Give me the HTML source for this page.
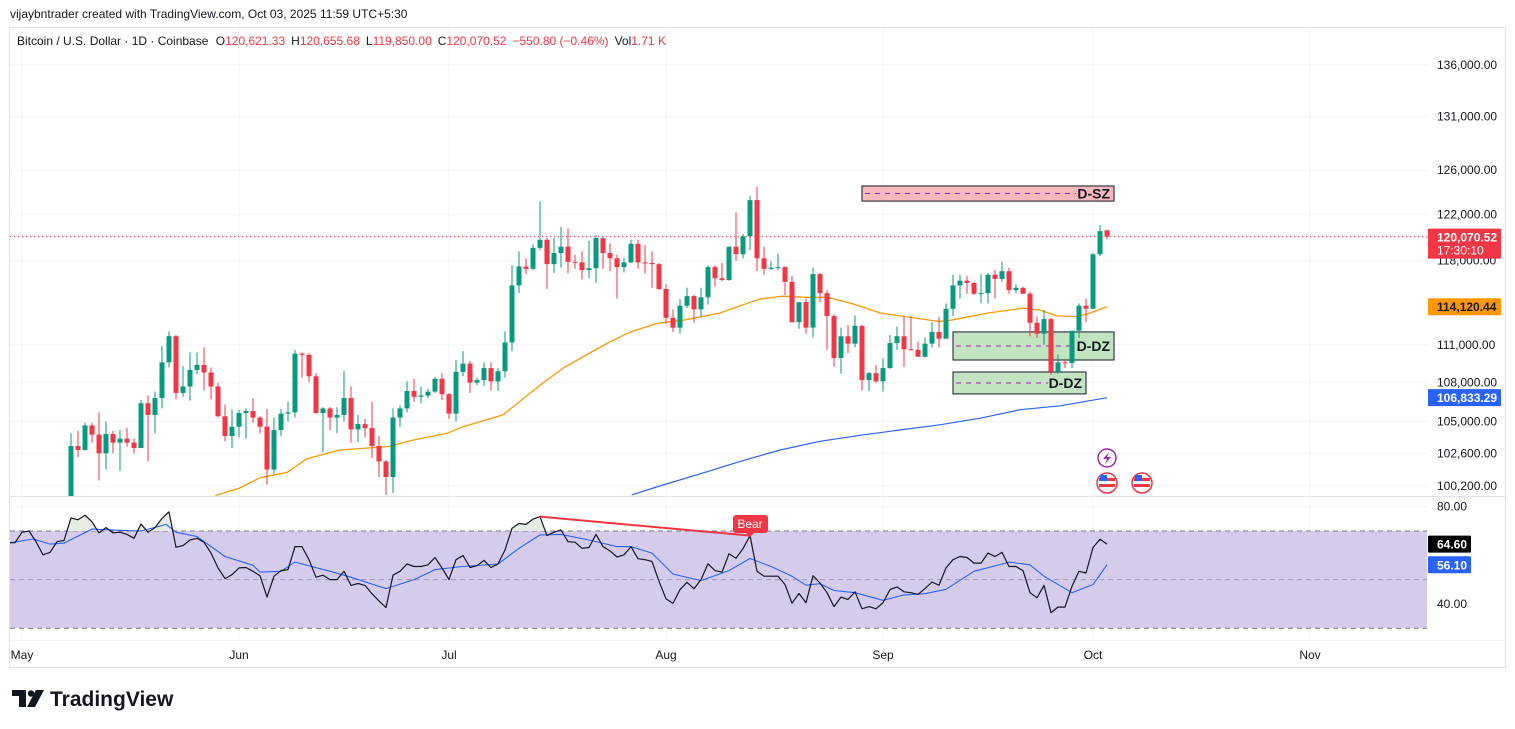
<!DOCTYPE html>
<html><head><meta charset="utf-8"><style>
html,body{margin:0;padding:0;background:#fff;}
svg{display:block;font-family:"Liberation Sans",sans-serif;}
</style></head><body>
<svg id="chart" width="1515" height="729" viewBox="0 0 1515 729" xmlns="http://www.w3.org/2000/svg">
<text x="10" y="18" font-size="12" fill="#131722">vijaybntrader created with TradingView.com, Oct 03, 2025 11:59 UTC+5:30</text>
<rect x="9.5" y="27.5" width="1496" height="640" fill="none" stroke="#e0e3eb"/>
<g id="grid"></g>
<g id="pricePane" clip-path="url(#pclip)"></g>
<g id="rsiPane"></g>
<g id="axes"></g>
<defs>
<clipPath id="pclip"><rect x="10" y="28" width="1417" height="468"/></clipPath>
<clipPath id="rclip"><rect x="10" y="498" width="1417" height="142"/></clipPath>
<clipPath id="above70"><rect x="10" y="498" width="1417" height="33"/></clipPath>
</defs>
<text x="17" y="45" font-size="12" fill="#131722">Bitcoin / U.S. Dollar · 1D · Coinbase <tspan dx="4">O</tspan><tspan fill="#f23645">120,621.33</tspan><tspan dx="6">H</tspan><tspan fill="#f23645">120,655.68</tspan><tspan dx="6">L</tspan><tspan fill="#f23645">119,850.00</tspan><tspan dx="6">C</tspan><tspan fill="#f23645">120,070.52</tspan><tspan dx="6" fill="#f23645">−550.80 (−0.46%)</tspan><tspan dx="6">Vol</tspan><tspan fill="#f23645">1.71 K</tspan></text>
<g>
<rect x="12" y="690" width="14" height="6" fill="#131722"/><rect x="19" y="690" width="7" height="17" fill="#131722"/>
<circle cx="31" cy="693.5" r="3.2" fill="#131722"/><polygon points="36,690 44,690 35,707 27,707" fill="#131722"/>
<text x="50" y="706" font-size="21" font-weight="bold" fill="#131722">TradingView</text>
</g>
</svg>
<script>
// ---- price data (thousands USD), one candle per day starting May 8 2025 (day index 7 from May 1) ----
const startDay = 7;
const opens  = [97.0,103.15,102.85,104.7,104.0,102.6,104.05,103.4,103.7,103.4,103.0,106.4,105.5,106.8,109.6,111.7,107.2,107.7,109.0,109.4,108.8,107.7,105.4,103.9,104.6,105.65,105.8,105.3,104.6,101.4,104.35,105.6,105.7,110.3,110.2,108.5,105.65,106.0,105.3,105.5,106.8,104.4,104.8,104.5,103.15,102.0,100.85,105.3,106.0,107.35,106.9,107.0,107.3,108.3,107.1,105.6,108.85,109.5,108.0,108.2,109.15,108.1,108.9,111.2,115.9,117.5,117.3,119.1,119.8,117.7,118.65,119.2,117.9,117.85,117.2,117.35,119.95,118.65,118.2,117.45,117.85,119.45,117.85,117.8,117.7,115.6,113.2,112.4,114.2,115.0,113.9,114.9,117.45,116.5,116.35,119.2,118.55,120.1,123.3,118.2,117.3,117.4,117.45,116.2,112.85,114.5,112.4,116.85,115.25,113.35,109.95,111.7,111.1,112.55,108.2,108.75,108.1,109.15,111.15,111.7,110.65,110.6,110.05,111.1,112.05,111.5,113.95,115.9,116.3,116.1,115.2,115.25,116.8,116.45,117.1,115.5,115.7,115.2,112.8,111.9,113.1,108.85,109.6,109.55,112.15,114.2,113.95,118.55,120.62];
const highs  = [104.1,104.3,104.9,104.9,105.7,105.0,104.3,104.35,104.5,103.7,106.65,107.0,107.3,110.9,112.1,111.8,109.3,110.4,110.4,110.8,109.2,108.0,106.3,105.9,105.9,106.0,106.8,105.4,105.95,105.3,105.95,106.5,110.6,110.4,110.35,108.75,106.1,106.1,106.1,108.9,107.7,105.5,105.2,106.5,103.9,102.1,106.0,106.25,108.1,108.3,107.7,107.5,108.45,108.75,107.2,109.8,110.5,109.7,108.4,109.6,109.6,109.15,112.1,117.6,118.8,118.2,119.4,123.2,119.95,119.95,120.9,120.8,118.5,118.8,119.7,120.2,120.0,119.5,118.5,118.2,119.8,119.8,119.35,118.8,117.8,116.0,113.9,114.75,115.7,115.1,115.7,117.6,117.6,117.8,119.2,122.2,120.3,123.7,124.5,119.2,117.95,118.6,117.5,116.7,114.5,114.8,117.4,116.95,115.5,113.5,112.4,112.6,113.4,112.6,108.85,109.4,109.9,111.8,112.5,113.35,113.3,111.25,111.6,112.85,113.3,114.4,116.8,116.8,116.7,116.2,116.85,116.95,117.2,117.9,117.4,116.0,115.75,115.35,113.3,113.85,113.2,110.25,109.8,112.15,114.4,114.8,118.65,121.1,120.66];
const lows   = [96.9,102.3,102.8,103.4,100.6,101.4,102.6,101.3,103.1,102.6,103.0,102.0,104.1,106.0,109.2,106.7,106.9,106.6,108.7,107.4,106.7,105.3,103.5,103.0,103.8,103.7,104.9,104.1,100.3,101.1,103.9,105.0,105.3,108.4,108.05,105.6,102.7,104.35,104.1,105.0,103.4,103.45,103.8,102.25,100.85,99.55,99.7,104.6,105.7,106.5,106.4,106.8,107.2,106.65,105.2,105.0,108.5,107.2,107.8,107.75,107.4,107.35,108.4,110.5,115.25,116.85,117.2,118.9,115.6,116.95,117.4,116.9,117.3,116.4,116.5,116.1,117.3,117.1,114.8,117.0,117.8,117.3,116.9,115.7,115.5,112.7,112.05,111.9,114.0,112.8,113.3,114.3,115.8,116.25,116.3,118.0,118.2,118.9,117.1,116.8,117.2,117.2,115.1,112.8,112.3,111.9,111.6,114.5,110.6,109.25,108.7,110.35,110.8,107.4,107.35,108.0,107.3,109.1,110.6,109.25,110.55,110.05,110.0,110.8,110.8,111.5,113.35,114.8,115.2,115.1,114.4,114.4,114.8,116.2,115.2,115.25,115.2,111.7,111.55,111.0,108.6,108.7,109.15,109.15,111.55,112.85,113.9,118.4,119.85];
const closes = [103.15,102.85,104.7,104.0,102.6,104.05,103.4,103.7,103.4,103.0,106.4,105.5,106.8,109.6,111.7,107.2,107.7,109.0,109.4,108.8,107.7,105.4,103.9,104.6,105.65,105.8,105.3,104.6,101.4,104.35,105.6,105.7,110.3,110.2,108.5,105.65,106.0,105.3,105.5,106.8,104.4,104.8,104.5,103.15,102.0,100.85,105.3,106.0,107.35,106.9,107.0,107.3,108.3,107.1,105.6,108.85,109.5,108.0,108.2,109.15,108.1,108.9,111.2,115.9,117.5,117.3,119.1,119.8,117.7,118.65,119.2,117.9,117.85,117.2,117.35,119.95,118.65,118.2,117.45,117.85,119.45,117.85,117.8,117.7,115.6,113.2,112.4,114.2,115.0,113.9,114.9,117.45,116.5,116.35,119.2,118.55,120.1,123.3,118.2,117.3,117.4,117.45,116.2,112.85,114.5,112.4,116.85,115.25,113.35,109.95,111.7,111.1,112.55,108.2,108.75,108.1,109.15,111.15,111.7,110.65,110.6,110.05,111.1,112.05,111.5,113.95,115.9,116.3,116.1,115.2,115.25,116.8,116.45,117.1,115.5,115.7,115.2,112.8,111.9,113.1,108.85,109.6,109.55,112.15,114.2,113.95,118.55,120.55,120.07];
// moving averages (day index from May 1, value in thousands)
const sma50Days = [27.6,31.1,34,37.9,40.7,45.4,52.3,55.9,60.7,63,68.7,74,77.3,81.1,84,86.9,90.7,94.4,99.7,103.6,105.4,108.7,112,115,118.7,122.6,131,132.6,138,143,145.4,147.9,150.7,152.6,155];
const sma50Vals = [99.5,100.05,100.8,101.2,102.2,102.85,103.1,103.6,104.1,104.6,105.5,107.8,109.15,110.35,111.25,112.05,112.75,113.0,113.6,114.4,114.75,115.0,114.9,114.9,114.35,113.6,112.9,113.0,113.6,114.0,113.85,113.35,113.3,113.6,114.12];
const sma200Days = [87.1,91.1,97,102.6,108.3,114,119.7,125.4,131.1,136.9,142.6,148.3,155];
const sma200Vals = [99.55,100.2,101.1,102.0,102.85,103.5,103.95,104.35,104.75,105.25,105.9,106.2,106.83];
// RSI (daily from day -2 to day 155)
const rsiStartDay = -2;
const rsiVals = [65.2,65.2,69.5,70,65.6,60.2,61.2,65.6,66.1,75.4,74.6,76.5,73.8,69.2,71.4,69.2,69.5,68.6,67.0,72.9,69.5,71.4,75.2,77.9,63.3,64.0,66.3,67.0,65.4,60.9,54.8,50.4,52.0,54.8,55.0,53.4,51.6,42.8,51.4,53.7,54.1,63.6,63.6,58.2,51.0,51.8,50.0,50.0,53.4,47.6,48.4,47.6,44.2,41.2,38.5,
51.8,53.4,56.4,55.4,55.4,56.1,59.1,54.8,50.0,58.2,59.9,55.0,55.7,57.9,55.0,56.4,62.2,71.1,73.1,72.7,74.9,75.9,68.1,69.5,70.4,65.6,65.4,62.9,63.2,68.6,63.6,61.8,59.3,60.2,63.6,58.6,58.2,57.5,49.3,42.1,40.2,45.9,48.9,46.2,50.0,56.5,53.7,53.1,60.6,58.8,62.7,68.1,53.4,
51.4,51.4,51.4,48.0,40.3,44.3,40.5,51.6,48.6,44.6,38.9,42.8,41.8,45.0,38.0,38.9,38.0,40.5,45.9,47.0,45.0,44.6,43.9,46.3,49.0,47.7,54.8,58.2,59.5,59.1,56.8,56.8,60.9,59.5,61.2,55.4,55.4,53.7,44.6,42.5,47.6,36.4,38.7,38.7,47.3,53.4,52.7,63.2,66.6,64.6];
const rsiMaDays = [-2,1.6,4,6,10,14,17,20.6,22,25,29,33,34,37,39,44,47,52,56,59,63,68,71,74,77,81,85,87,90,93,97,101,104,107,110,112,114,116,119,123,126,129,132,136,140,141,144,146,150,153,155];
const rsiMaVals = [65.0,66.7,64.6,65.0,70.8,70.3,70.0,72.7,69.5,67.7,59.5,55.9,53.1,53.4,57.2,53.4,51.0,46.3,50.0,54.1,55.4,56.4,62.9,68.4,68.6,66.3,63.6,63.6,60.9,52.3,49.6,53.7,58.7,55.4,51.4,47.7,48.3,45.5,44.6,41.5,43.7,44.2,46.0,53.4,56.4,57.2,56.1,51.4,44.6,48.0,56.1];
// axis ticks
const priceTicks = [136000,131000,126000,122000,118000,111000,108000,105000,102600,100200];
const monthLabels = ["May","Jun","Jul","Aug","Sep","Oct","Nov"];
const monthDays = [0,31,61,92,123,153,184];
const rsiTicks = [80,40];
const lastPrice = 120.07052, sma50Last = 114.12044, sma200Last = 106.83329, rsiLast = 64.60, rsiMaLast = 56.10;

const NS = "http://www.w3.org/2000/svg";
const X = d => 22 + 7 * d;
const Y = p => 65 + Math.log(136000 / (p * 1000)) * 1378;
const YR = v => 531 + (70 - v) * 2.43;
function mk(tag, attrs, parent) { const e = document.createElementNS(NS, tag); for (const k in attrs) e.setAttribute(k, attrs[k]); parent.appendChild(e); return e; }
const grid = document.getElementById('grid'), pp = document.getElementById('pricePane'), rp = document.getElementById('rsiPane'), ax = document.getElementById('axes');
const fmt = n => n.toLocaleString('en-US', {minimumFractionDigits: 2, maximumFractionDigits: 2});

// grid
monthDays.forEach((d, i) => {
  const l = mk('line', {x1: X(d), x2: X(d), y1: 28, y2: 640, stroke: '#f0f3fa'}, grid);
  
  
  const t = mk('text', {x: X(d), y: 659, 'font-size': 12, 'text-anchor': 'middle', fill: '#131722'}, ax);
  t.textContent = monthLabels[i];
  
  
});
priceTicks.forEach(p => {
  const y = Y(p / 1000);
  const l = mk('line', {x1: 10, x2: 1427, y1: y, y2: y, stroke: '#f0f3fa'}, grid);
  
  
  const t = mk('text', {x: 1437, y: y + 4, 'font-size': 12, fill: '#131722'}, ax);
  t.textContent = fmt(p);
  
  
});
mk('line', {x1: 10, x2: 1505, y1: 496.5, y2: 496.5, stroke: '#e0e3eb'}, grid);
mk('line', {x1: 10, x2: 1505, y1: 640.5, y2: 640.5, stroke: '#f0f3fa'}, grid);

// zones
function zone(d1, d2, p1, p2, fill, label, name) {
  const g = mk('g', {}, pp);
  
  
  const y1 = Y(p1), y2 = Y(p2);
  mk('rect', {x: X(d1), y: y1, width: X(d2) - X(d1), height: y2 - y1, fill: fill, stroke: '#131722', 'stroke-width': 1}, g);
  mk('line', {x1: X(d1) + 3, x2: X(d2) - 38, y1: (y1 + y2) / 2, y2: (y1 + y2) / 2, stroke: '#9c27b0', 'stroke-dasharray': '5,5'}, g);
  const t = mk('text', {x: X(d2) - 4, y: (y1 + y2) / 2 + 5, 'font-size': 14, 'font-weight': 'bold', 'text-anchor': 'end', fill: '#131722'}, g);
  t.textContent = label;
}
zone(120, 156, 124.57, 123.21, '#f9b8bd', 'D-SZ', 'supply-zone');
zone(133, 156, 112.05, 109.79, '#c3e4c1', 'D-DZ', 'demand-zone-upper');
zone(133, 152, 108.84, 107.12, '#c3e4c1', 'D-DZ', 'demand-zone-lower');

// last price dotted line
const lp = mk('line', {x1: 10, x2: 1427, y1: Y(lastPrice), y2: Y(lastPrice), stroke: '#f23645', 'stroke-dasharray': '1,3'}, pp);



// moving average lines
function polyline(days, vals, xf, yf, color, w, parent, name) {
  const pts = days.map((d, i) => xf(d).toFixed(1) + ',' + yf(vals[i]).toFixed(1)).join(' ');
  const pl = mk('polyline', {points: pts, fill: 'none', stroke: color, 'stroke-width': w, 'stroke-linejoin': 'round'}, parent);
  
  
  return pl;
}
polyline(sma50Days, sma50Vals, X, Y, '#ff9800', 1.3, pp, 'sma50-line');
polyline(sma200Days, sma200Vals, X, Y, '#2962ff', 1.2, pp, 'sma200-line');

// candles
for (let i = 0; i < opens.length; i++) {
  const d = startDay + i, x = X(d), up = closes[i] >= opens[i];
  const col = up ? '#089981' : '#f23645';
  const g = mk('g', {}, pp);
  
  
  mk('line', {x1: x, x2: x, y1: Y(highs[i]), y2: Y(lows[i]), stroke: col, 'stroke-width': 1}, g);
  const yt = Y(Math.max(opens[i], closes[i])), yb = Y(Math.min(opens[i], closes[i]));
  mk('rect', {x: x - 2.5, y: yt, width: 5, height: Math.max(1, yb - yt), fill: col}, g);
}

// event icons
const ev = mk('g', {}, ax);


mk('circle', {cx: 1107, cy: 458, r: 9, fill: '#fff', stroke: '#9c27b0', 'stroke-width': 1.5}, ev);
mk('polygon', {points: '1109,452 1103,459 1107,459 1105,464 1111,457 1107,457', fill: '#9c27b0'}, ev);
[1107, 1142].forEach(cx => {
  mk('circle', {cx: cx, cy: 483, r: 10, fill: '#fff', stroke: '#f23645', 'stroke-width': 1.5}, ev);
  mk('rect', {x: cx - 8, y: 478, width: 16, height: 3, fill: '#f23645'}, ev);
  mk('rect', {x: cx - 8, y: 484, width: 16, height: 3, fill: '#f23645'}, ev);
  mk('rect', {x: cx - 7, y: 475, width: 7, height: 6, fill: '#2962ff'}, ev);
});

// RSI pane
mk('rect', {x: 10, y: YR(70), width: 1417, height: YR(30) - YR(70), fill: '#d5cbeb'}, rp);
rsiTicks.forEach(v => { mk('line', {x1: 10, x2: 1427, y1: YR(v), y2: YR(v), stroke: '#f0f3fa'}, grid); });
[70, 30].forEach(v => mk('line', {x1: 10, x2: 1427, y1: YR(v), y2: YR(v), stroke: '#787b86', 'stroke-dasharray': '5,4'}, rp));
mk('line', {x1: 10, x2: 1427, y1: YR(50), y2: YR(50), stroke: '#a09aae', 'stroke-dasharray': '5,4'}, rp);
const rsiDays = rsiVals.map((v, i) => rsiStartDay + i);
const rg = mk('g', {'clip-path': 'url(#rclip)'}, rp);
// overbought fill
const fillPts = rsiDays.map((d, i) => X(d).toFixed(1) + ',' + YR(rsiVals[i]).toFixed(1));
const ob = mk('polygon', {points: X(rsiDays[0]) + ',' + YR(70) + ' ' + fillPts.join(' ') + ' ' + X(rsiDays[rsiDays.length - 1]) + ',' + YR(70), fill: '#e6ebe6', 'clip-path': 'url(#above70)'}, rg);


polyline(rsiMaDays, rsiMaVals, X, YR, '#2962ff', 1.1, rg, 'rsi-ma-line');
polyline(rsiDays, rsiVals, X, YR, '#131722', 1.2, rg, 'rsi-line');
rsiTicks.forEach(v => {
  const t = mk('text', {x: 1437, y: YR(v) + 4, 'font-size': 12, fill: '#131722'}, ax);
  t.textContent = v.toFixed(2);
  
  
});
// bear divergence
const bd1 = 74, bd2 = 104;
const bl = mk('line', {x1: X(bd1), y1: YR(rsiVals[bd1 - rsiStartDay]), x2: X(bd2), y2: YR(rsiVals[bd2 - rsiStartDay]), stroke: '#f23645', 'stroke-width': 2}, rp);


const bg = mk('g', {}, rp);


mk('rect', {x: X(bd2) - 17, y: 515, width: 35, height: 18, rx: 3, fill: '#f23645'}, bg);
mk('polygon', {points: (X(bd2) - 4) + ',533 ' + (X(bd2) + 4) + ',533 ' + X(bd2) + ',537', fill: '#f23645'}, bg);
const bt = mk('text', {x: X(bd2), y: 528, 'font-size': 12, 'text-anchor': 'middle', fill: '#fff'}, bg);
bt.textContent = 'Bear';

// axis value labels
function tag(y, h, bgc, fg, lines, w, name) {
  const g = mk('g', {}, ax);
  
  
  mk('rect', {x: 1428, y: y - h / 2, width: w, height: h, fill: bgc, rx: 1}, g);
  lines.forEach((s, i) => {
    const t = mk('text', {x: 1437, y: y - h / 2 + 13 + i * 13, 'font-size': 12, fill: fg, 'font-weight': i === 0 ? 'bold' : 'normal'}, g);
    t.textContent = s;
  });
}
tag(Y(lastPrice) + 7, 30, '#f23645', '#fff', [fmt(lastPrice * 1000), '17:30:10'], 73, 'last-price-label');
tag(Y(sma50Last), 17, '#ff9800', '#131722', [fmt(sma50Last * 1000)], 73, 'sma50-label');
tag(Y(sma200Last), 17, '#2962ff', '#fff', [fmt(sma200Last * 1000)], 73, 'sma200-label');
tag(YR(rsiLast), 17, '#000', '#fff', [rsiLast.toFixed(2)], 43, 'rsi-value-label');
tag(YR(rsiMaLast), 17, '#2962ff', '#fff', [rsiMaLast.toFixed(2)], 43, 'rsi-ma-value-label');
</script>
</body></html>
